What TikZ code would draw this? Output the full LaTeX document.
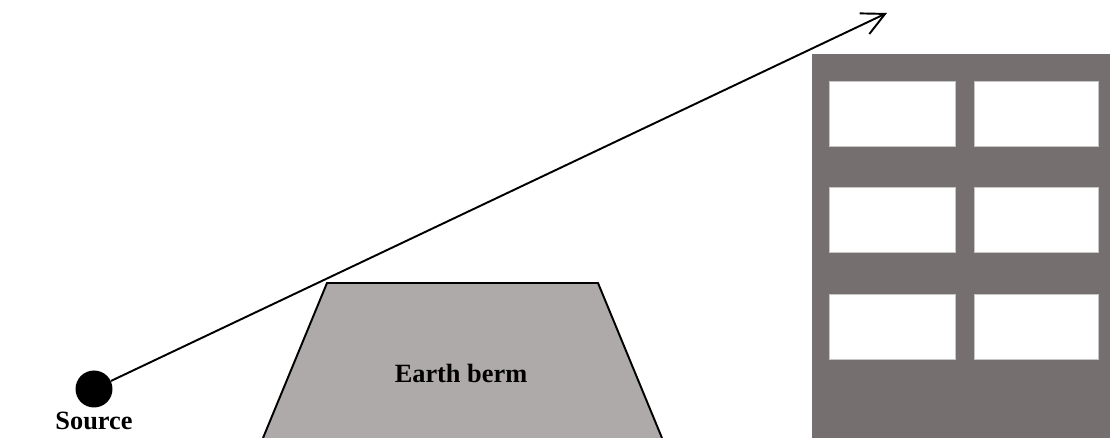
\documentclass[tikz,border=0pt]{standalone}
\usepackage{fontspec}
\setmainfont{Liberation Serif}
\usetikzlibrary{arrows.meta, positioning}
\definecolor{bermGray}{HTML}{AEAAA9}
\definecolor{wallGray}{HTML}{75706F}
\tikzset{
    font=\bfseries\fontsize{15}{18}\selectfont,
    % Colors
    bermFill/.style={fill=bermGray},
    wallFill/.style={fill=wallGray},
    % Shapes
    srcDot/.style={circle, fill=black, minimum size=0.74cm, inner sep=0pt},
    window/.style={fill=white, draw=gray!45, line width=0.4pt},
    outline/.style={draw=black, line width=1.1pt, line join=miter},
    % Flow & Labels
    ray/.style={-{Straight Barb[length=13pt, width=13pt, line width=1.1pt]}, line width=1.1pt},
    lbl/.style={inner sep=1pt, text=black}
}

\begin{document}
\begin{tikzpicture}[x=0.02cm, y=-0.02cm]
\useasboundingbox (0,0) rectangle (1110,438);

% earth berm
\fill[bermFill] (263,438) -- (327,283) -- (598,283) -- (662,438) -- cycle;
\draw[outline] (263,438) -- (327,283) -- (598,283) -- (662,438);
\node[lbl] (berm) at (461,373) {Earth berm};

% building
\fill[wallFill] (812,54) rectangle (1110,438);
\foreach \y in {81,187,294}{
  \draw[window] (829,\y) rectangle (955,\y+65);
  \draw[window] (974,\y) rectangle (1098,\y+65);
}

% source
\node[srcDot] (source) at (94,389) {};
\node[lbl, below=1pt of source] (srclbl) {Source};

\coordinate (tip) at (887,13);
\draw[ray] (source) -- (tip);

\end{tikzpicture}
\end{document}
